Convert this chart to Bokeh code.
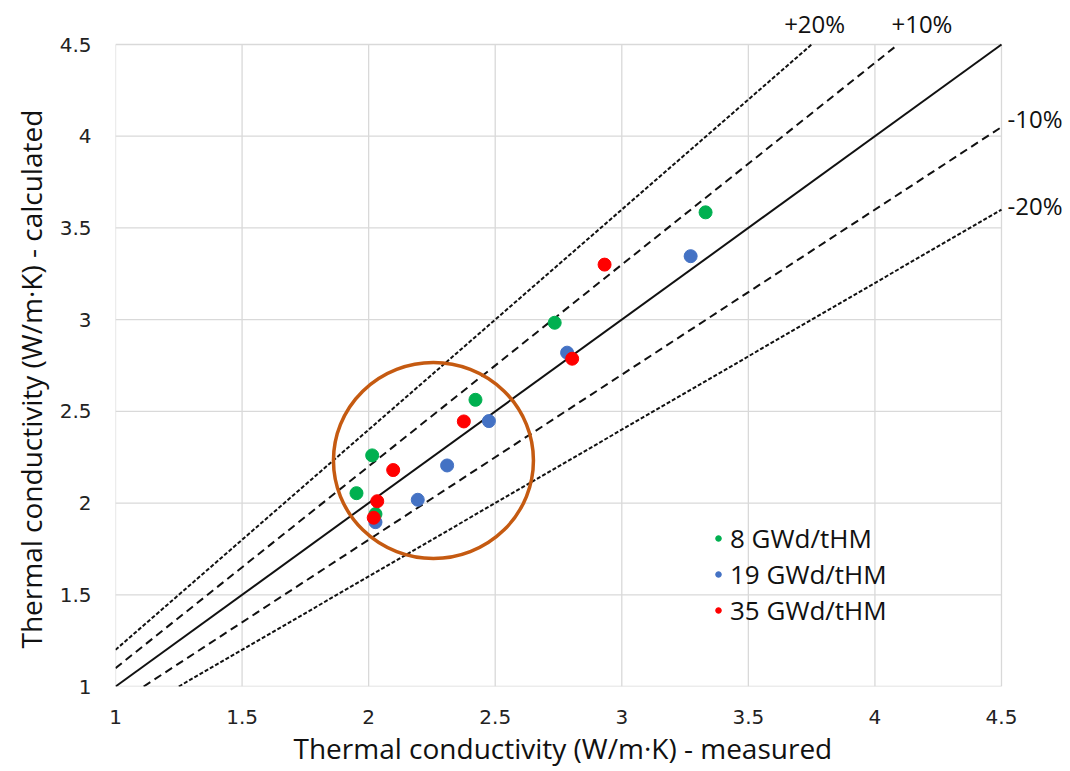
from bokeh.plotting import figure
from bokeh.models import (ColumnDataSource, FixedTicker, CustomJSTickFormatter, Legend, LegendItem,
                          Range1d, Title)
from bokeh.core.properties import value
from bokeh.embed import file_html
from bokeh.resources import INLINE

# ---- data ----
x_8 = [1.952, 2.014, 2.027, 2.422, 2.735, 3.331]
y_8 = [2.054, 2.260, 1.940, 2.563, 2.983, 3.585]
x_19 = [2.027, 2.194, 2.310, 2.475, 2.784, 3.272]
y_19 = [1.896, 2.018, 2.205, 2.447, 2.820, 3.346]
x_35 = [2.020, 2.034, 2.097, 2.376, 2.804, 2.932]
y_35 = [1.920, 2.010, 2.180, 2.445, 2.787, 3.300]
series_labels = ["8 GWd/tHM", "19 GWd/tHM", "35 GWd/tHM"]
series_colors = ["#00B050", "#4472C4", "#FF0000"]

ratios = [1.2, 1.1, 1.0, 0.9, 0.8]
ratio_labels = ["+20%", "+10%", "", "-10%", "-20%"]
ticks = [1, 1.5, 2, 2.5, 3, 3.5, 4, 4.5]
axis_min, axis_max = 1.0, 4.5
x_title = "Thermal conductivity (W/m·K) - measured"
y_title = "Thermal conductivity (W/m·K) - calculated"

# highlight circle (data-space ellipse)
circ_x, circ_y, circ_w, circ_h = 2.256, 2.232, 0.79, 1.069

# ---- layout (pixels) ----
W, H = 1070, 771
LEFT, RIGHT, TOP, BOTTOM = 115, 1001, 44, 686   # plot area of the 1..4.5 box
FRAME_TOP = 2
px_x = (RIGHT - LEFT) / (axis_max - axis_min)
px_y = (BOTTOM - TOP) / (axis_max - axis_min)
x_end = axis_max + (W - RIGHT) / px_x
y_end = axis_max + (TOP - FRAME_TOP) / px_y

FONT = "Open Sans"
TICK_FONT = "DejaVu Sans"

p = figure(width=W, height=H, output_backend="svg", toolbar_location=None,
           x_range=Range1d(axis_min, x_end), y_range=Range1d(axis_min, y_end),
           min_border_left=LEFT, min_border_right=0, min_border_top=FRAME_TOP,
           min_border_bottom=H - BOTTOM)
p.outline_line_color = None
p.background_fill_color = "white"
p.border_fill_color = "white"
p.xgrid.visible = False
p.ygrid.visible = False

for ax in (p.xaxis[0], p.yaxis[0]):
    ax.ticker = FixedTicker(ticks=ticks)
    ax.formatter = CustomJSTickFormatter(code="return tick.toString()")
    ax.axis_line_color = None
    ax.major_tick_line_color = None
    ax.minor_tick_line_color = None
    ax.major_tick_out = 0
    ax.major_tick_in = 0
    ax.minor_tick_out = 0
    ax.minor_tick_in = 0
    ax.major_label_text_font = TICK_FONT
    ax.major_label_text_font_size = "20px"
    ax.major_label_text_color = "#222222"
p.xaxis.major_label_standoff = 23
p.yaxis.major_label_standoff = 24

# axis titles as side titles, positioned along the 1..4.5 box
p.add_layout(Title(text=x_title, align="left", offset=178, standoff=0,
                   text_font=FONT, text_font_style="normal", text_font_size="28px",
                   text_color="#111111"), "below")
p.add_layout(Title(text=y_title, align="left", offset=38, standoff=14,
                   text_font=FONT, text_font_style="normal", text_font_size="28px",
                   text_color="#111111"), "left")

# grid lines limited to the 1..4.5 box
n = len(ticks)
p.segment(x0=ticks, y0=[axis_min] * n, x1=ticks, y1=[axis_max] * n,
          line_color="#d9d9d9", line_width=1.3)
p.segment(x0=[axis_min] * n, y0=ticks, x1=[axis_max] * n, y1=ticks,
          line_color="#d9d9d9", line_width=1.3)

# reference lines
dashes = {1.2: "4 2", 1.1: "8 5", 1.0: "solid", 0.9: "8 5", 0.8: "4 2"}
lab_x, lab_y, lab_t, lab_dx, lab_dy = [], [], [], [], []
for r, lab in zip(ratios, ratio_labels):
    x0 = max(axis_min, axis_min / r)
    x1 = min(axis_max, axis_max / r)
    p.line([x0, x1], [x0 * r, x1 * r], line_color="#111111",
           line_width=2.0, line_dash=dashes[r])
    if not lab:
        continue
    lab_x.append(x1)
    lab_y.append(x1 * r)
    lab_t.append(lab)
    if r > 1:
        lab_dx.append(3 if r > 1.15 else 24)
        lab_dy.append(-5)
    else:
        lab_dx.append(6)
        lab_dy.append(-9 if r > 0.85 else -4)

top_src = ColumnDataSource(dict(x=lab_x[:2], y=lab_y[:2], t=lab_t[:2], dx=lab_dx[:2], dy=lab_dy[:2]))
side_src = ColumnDataSource(dict(x=lab_x[2:], y=lab_y[2:], t=lab_t[2:], dx=lab_dx[2:], dy=lab_dy[2:]))
p.text(x="x", y="y", text="t", x_offset="dx", y_offset="dy", source=top_src,
       text_align="center", text_baseline="bottom", text_font=value(FONT),
       text_font_size="24px", text_color="#111111")
p.text(x="x", y="y", text="t", x_offset="dx", y_offset="dy", source=side_src,
       text_align="left", text_baseline="middle", text_font=value(FONT),
       text_font_size="24px", text_color="#111111")

# highlight ellipse
p.ellipse(x=[circ_x], y=[circ_y], width=circ_w, height=circ_h,
          fill_color=None, line_color="#C55A11", line_width=3.5)

# points
items = []
for xs, ys, lab, col in zip([x_8, x_19, x_35], [y_8, y_19, y_35], series_labels, series_colors):
    src = ColumnDataSource(dict(x=xs, y=ys))
    r = p.scatter("x", "y", source=src, size=13, fill_color=col, line_color=col)
    items.append(LegendItem(label=lab, renderers=[r]))

legend = Legend(items=items, location=(596, 58), orientation="vertical",
                background_fill_alpha=0, border_line_color=None,
                label_text_font=FONT, label_text_font_size="26px", label_text_color="#111111",
                glyph_width=14, glyph_height=14, label_standoff=5, spacing=0,
                padding=0, margin=0, label_height=30)
p.add_layout(legend)

open("out.html", "w").write(file_html(p, INLINE))
